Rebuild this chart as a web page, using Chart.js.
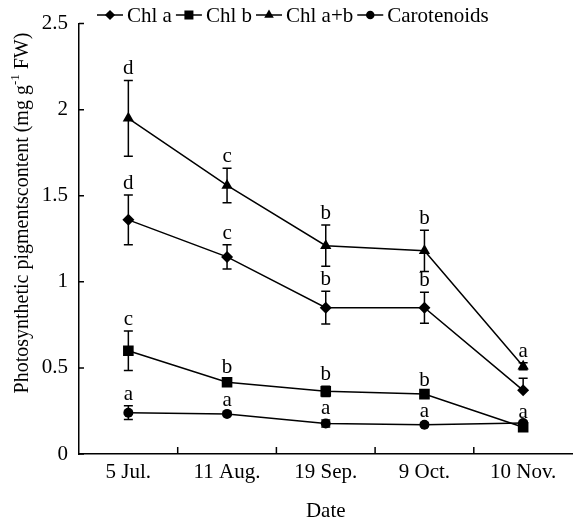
<!DOCTYPE html>
<html>
<head>
<meta charset="utf-8">
<script src="https://cdn.jsdelivr.net/npm/chart.js@4/dist/chart.umd.min.js"></script>
<style>
  html, body { margin: 0; padding: 0; background: #fff; overflow: hidden; width: 574px; height: 524px; }
  #c { display: block; }
</style>
</head>
<body>
<canvas id="c" width="580" height="524"></canvas>
<script>
// data
const dates = ['5 Jul.', '11 Aug.', '19 Sep.', '9 Oct.', '10 Nov.'];

const chlA = [1.36, 1.145, 0.85, 0.85, 0.37];
const chlAErr = [0.145, 0.07, 0.095, 0.09, 0.07];
const chlALetters = ['d', 'c', 'b', 'b', ''];

const chlB = [0.60, 0.417, 0.364, 0.348, 0.155];
const chlBErr = [0.115, 0.02, 0.03, 0.015, 0.02];
const chlBLetters = ['c', 'b', 'b', 'b', 'a'];

const chlAB = [1.95, 1.56, 1.21, 1.18, 0.51];
const chlABErr = [0.22, 0.10, 0.12, 0.12, 0.02];
const chlABLetters = ['d', 'c', 'b', 'b', 'a'];

const carot = [0.24, 0.233, 0.177, 0.17, 0.18];
const carotErr = [0.04, 0.01, 0.02, 0.01, 0.01];
const carotLetters = ['a', 'a', 'a', 'a', ''];

const yTicks = [0, 0.5, 1, 1.5, 2, 2.5];

const FONT = 'Liberation Serif';
const FS = 21;

const series = [
    { label: 'Chl a', data: chlA, err: chlAErr, letters: chlALetters, style: 'rectRot', r: 6, lowOff: [false, false, false, false, true] },
    { label: 'Chl b', data: chlB, err: chlBErr, letters: chlBLetters, style: 'rect', r: 7.5 },
    { label: 'Chl a+b', data: chlAB, err: chlABErr, letters: chlABLetters, style: 'triangle', r: 6.5 },
    { label: 'Carotenoids', data: carot, err: carotErr, letters: carotLetters, style: 'circle', r: 5 }
];

function marker(ctx, style, x, y, r) {
    ctx.beginPath();
    if (style === 'circle') {
        ctx.arc(x, y, r, 0, Math.PI * 2);
    } else if (style === 'rect') {
        const s = r * Math.SQRT1_2;
        ctx.rect(x - s, y - s, 2 * s, 2 * s);
    } else if (style === 'rectRot') {
        ctx.moveTo(x, y - r); ctx.lineTo(x + r, y); ctx.lineTo(x, y + r); ctx.lineTo(x - r, y);
        ctx.closePath();
    } else if (style === 'triangle') {
        const w = r * 0.866;
        ctx.moveTo(x, y - r); ctx.lineTo(x + w, y + r * 0.5); ctx.lineTo(x - w, y + r * 0.5);
        ctx.closePath();
    }
    ctx.fill();
}

// error bars, significance letters, inward ticks, legend and y title
const extras = {
    id: 'extras',
    afterDatasetsDraw(chart) {
        const ctx = chart.ctx, xs = chart.scales.x, ys = chart.scales.y, area = chart.chartArea;
        ctx.save();
        ctx.strokeStyle = '#000'; ctx.fillStyle = '#000'; ctx.lineWidth = 1.5;

        series.forEach(s => {
            s.data.forEach((v, j) => {
                const x = xs.getPixelForValue(j);
                const top = ys.getPixelForValue(v + s.err[j]);
                const bot = ys.getPixelForValue(s.lowOff && s.lowOff[j] ? v : v - s.err[j]);
                ctx.beginPath();
                ctx.moveTo(x, top); ctx.lineTo(x, bot);
                ctx.moveTo(x - 4.5, top); ctx.lineTo(x + 4.5, top);
                if (bot !== ys.getPixelForValue(v)) { ctx.moveTo(x - 4.5, bot); ctx.lineTo(x + 4.5, bot); }
                ctx.stroke();
                if (s.letters[j]) {
                    ctx.font = FS + 'px "' + FONT + '"';
                    ctx.textAlign = 'center'; ctx.textBaseline = 'alphabetic';
                    ctx.fillText(s.letters[j], x, top - 6);
                }
            });
        });

        // inward tick marks
        ctx.beginPath();
        for (let j = 0; j < dates.length - 1; j++) {
            const bx = (xs.getPixelForValue(j) + xs.getPixelForValue(j + 1)) / 2;
            ctx.moveTo(bx, area.bottom); ctx.lineTo(bx, area.bottom - 7);
        }
        yTicks.forEach(t => {
            const py = ys.getPixelForValue(t);
            ctx.moveTo(area.left, py); ctx.lineTo(area.left + 5, py);
        });
        ctx.stroke();

        // legend
        ctx.font = FS + 'px "' + FONT + '"';
        ctx.textAlign = 'left'; ctx.textBaseline = 'middle';
        let lx = 97;
        const ly = 15;
        series.forEach(s => {
            ctx.beginPath();
            ctx.moveTo(lx, ly); ctx.lineTo(lx + 26, ly);
            ctx.stroke();
            marker(ctx, s.style, lx + 13, ly, s.r * 0.85);
            ctx.fillText(s.label, lx + 30, ly + 1);
            lx += 30 + ctx.measureText(s.label).width + 4;
        });

        // y axis title with superscript
        ctx.translate(23, 213);
        ctx.rotate(-Math.PI / 2);
        const p1 = 'Photosynthetic pigmentscontent (mg g', sup = '-1', p3 = ' FW)';
        const bigF = '20px "' + FONT + '"', supF = '13px "' + FONT + '"';
        ctx.font = bigF; const w1 = ctx.measureText(p1).width, w3 = ctx.measureText(p3).width;
        ctx.font = supF; const w2 = ctx.measureText(sup).width;
        let tx = -(w1 + w2 + w3) / 2;
        ctx.textBaseline = 'middle';
        ctx.font = bigF; ctx.fillText(p1, tx, 0); tx += w1;
        ctx.font = supF; ctx.fillText(sup, tx, -7); tx += w2;
        ctx.font = bigF; ctx.fillText(p3, tx, 0);
        ctx.restore();
    }
};

new Chart(document.getElementById('c'), {
    type: 'line',
    data: {
        labels: dates,
        datasets: series.map(s => ({
            label: s.label,
            data: s.data,
            borderColor: '#000',
            backgroundColor: '#000',
            borderWidth: 1.5,
            pointStyle: s.style,
            pointRadius: s.r,
            pointBorderWidth: 0,
            tension: 0
        }))
    },
    options: {
        responsive: false,
        animation: false,
        layout: { padding: { top: 14, right: 2, left: 0, bottom: 0 } },
        plugins: { legend: { display: false }, tooltip: { enabled: false } },
        scales: {
            x: {
                type: 'category',
                offset: true,
                grid: { display: false, drawTicks: false },
                border: { display: true, color: '#000', width: 1.5 },
                ticks: { color: '#000', font: { family: FONT, size: FS }, padding: 6, maxRotation: 0 },
                title: { display: true, text: 'Date', color: '#000', font: { family: FONT, size: FS }, padding: { top: 0, bottom: 0 } },
                afterFit: s => { s.height = 70; }
            },
            y: {
                min: 0, max: 2.5,
                grid: { display: false, drawTicks: false },
                border: { display: true, color: '#000', width: 1.5 },
                ticks: { stepSize: 0.5, color: '#000', font: { family: FONT, size: FS }, padding: 11, callback: v => String(v) },
                afterFit: s => { s.width = 79; }
            }
        }
    },
    plugins: [extras]
});
</script>
</body>
</html>
